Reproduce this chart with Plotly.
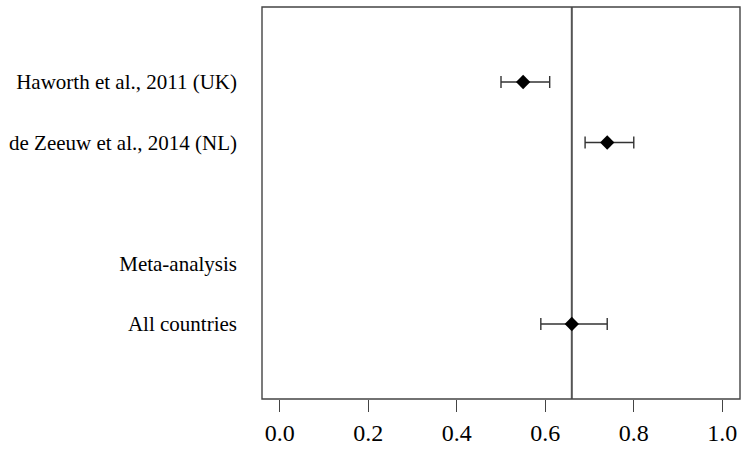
import plotly.graph_objects as go

row_labels = ["Haworth et al., 2011 (UK)", "de Zeeuw et al., 2014 (NL)", "", "Meta-analysis", "All countries"]
row_pos = [5, 4, 3, 2, 1]
estimate = [0.55, 0.74, None, None, 0.66]
ci_lower = [0.50, 0.69, None, None, 0.59]
ci_upper = [0.61, 0.80, None, None, 0.74]
pooled = 0.66
x_ticks = [0.0, 0.2, 0.4, 0.6, 0.8, 1.0]
x_ticklabels = ["0.0", "0.2", "0.4", "0.6", "0.8", "1.0"]

FONT = "Liberation Serif, Times New Roman, serif"

xs, ys, ep, em = [], [], [], []
for p, e, lo, hi in zip(row_pos, estimate, ci_lower, ci_upper):
    if e is None:
        continue
    xs.append(e); ys.append(p); ep.append(hi - e); em.append(e - lo)

fig = go.Figure()
fig.add_trace(go.Scatter(
    x=xs, y=ys, mode="markers",
    marker=dict(symbol="diamond", size=11, color="black"),
    error_x=dict(type="data", symmetric=False, array=ep, arrayminus=em,
                 color="#333333", thickness=1.4, width=6),
    showlegend=False, hoverinfo="skip",
))

fig.add_shape(type="line", xref="x", yref="paper", x0=pooled, x1=pooled, y0=0, y1=1,
              line=dict(color="#555555", width=2), layer="below")
fig.add_shape(type="rect", xref="paper", yref="paper", x0=0, x1=1, y0=0, y1=1,
              line=dict(color="#444444", width=1.4))

fig.update_layout(
    width=741, height=454,
    margin=dict(l=262, r=1, t=7, b=55, autoexpand=False),
    paper_bgcolor="white", plot_bgcolor="white",
    font=dict(family=FONT, size=21, color="black"),
    xaxis=dict(range=[-0.04, 1.04], tickvals=x_ticks, ticktext=x_ticklabels,
               ticks="outside", ticklen=12, tickwidth=1.2, tickcolor="#444444",
               showgrid=False, zeroline=False, showline=False, automargin=False,
               tickfont=dict(size=24, family=FONT)),
    yaxis=dict(range=[-0.24, 6.24], tickvals=row_pos, ticktext=row_labels,
               ticks="", showgrid=False, zeroline=False, showline=False, automargin=False,
               ticklabelstandoff=24, tickfont=dict(size=21, family=FONT)),
)

fig.write_html("out.html", config={"displayModeBar": False},
               post_script="document.body.style.margin='0';document.body.style.overflow='hidden';")
